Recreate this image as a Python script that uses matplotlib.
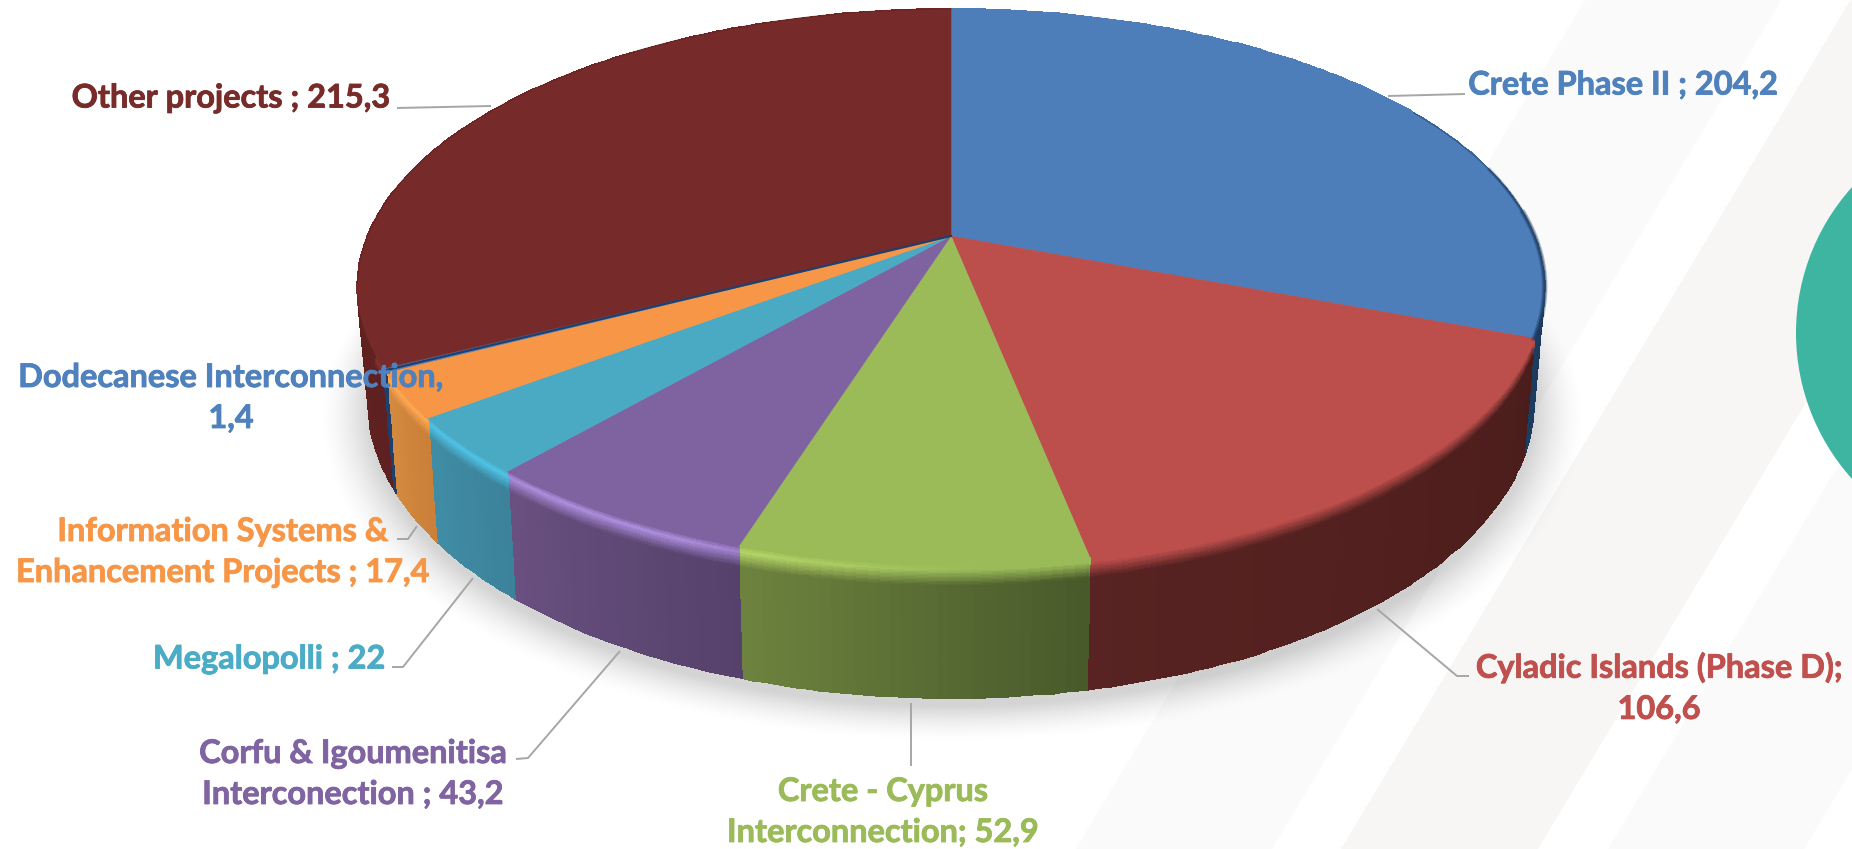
import numpy as np
import matplotlib
matplotlib.use('Agg')
import matplotlib.pyplot as plt
import matplotlib.patheffects as pe
from matplotlib.colors import to_rgb
from matplotlib.patches import Circle, Polygon

# chart data
projects = ['Crete Phase II', 'Cyladic Islands (Phase D)', 'Crete - Cyprus Interconnection',
            'Corfu & Igoumenitisa Interconection', 'Megalopolli',
            'Information Systems & Enhancement Projects', 'Dodecanese Interconnection', 'Other projects']
values = [204.2, 106.6, 52.9, 43.2, 22, 17.4, 1.4, 215.3]
labels = ['Crete Phase II ; 204,2', 'Cyladic Islands (Phase D);\n106,6', 'Crete - Cyprus\nInterconnection; 52,9',
          'Corfu & Igoumenitisa\nInterconection ; 43,2', 'Megalopolli ; 22',
          'Information Systems &\nEnhancement Projects ; 17,4', 'Dodecanese Interconnection,\n1,4',
          'Other projects ; 215,3']
top_colors = ['#4d7eb9', '#bc4e4c', '#9bbb59', '#7f62a0', '#4aa9c3', '#f79646', '#4d7eb9', '#772a2a']
side_left = ['#1d3a5f', '#582322', '#6e833f', '#695080', '#3f8ea6', '#d58a40', '#1f3f6c', '#6e2626']
side_right = ['#1d3a5f', '#4a1d1b', '#47592a', '#55416b', '#3b8199', '#c97f38', '#1f3f6c', '#5e2020']
shine = ['#4d7eb9', '#bc4e4c', '#bcdc6c', '#ab8ddc', '#4fc3e6', '#ffa851', '#1f3f6c', '#843230']
label_pos = [(1623, 85), (1659, 688), (883, 812), (353, 774), (269, 659), (223, 552), (231, 398), (231, 98)]
label_colors = ['#4f81bd', '#c0504d', '#9bbb59', '#8064a2', '#4bacc6', '#f79646', '#4f81bd', '#772c2a']

# leader lines, one list per label
leaders = [
    [(1388, 96), (1465, 94)],
    [(1377, 609), (1457, 676), (1469, 676)],
    [(911, 703), (911, 766)],
    [(620, 651), (528, 758), (516, 759)],
    [(473, 578), (403, 667), (392, 667)],
    [(417, 526), (408, 539), (397, 539)],
    [(491, 106), (397, 108)],
]

# pale diagonal bands behind the chart: left and right edge at the bottom of the picture
band_edges = [(1076, 1272), (1341, 1538), (1608, 1804)]
band_colors = ['#fafafa', '#f7f6f5', '#fafafa']
band_lean = 0.6

# perspective of the disc
cx, cy = 951, 236
k = 0.183
top_a, top_b = 583.6, 268.6
bot_a, bot_cy, bot_b = 573, 348, 286


def top_xy(theta):
    u, v = np.sin(theta), np.cos(theta)
    w = 1 + k * v
    return cx + top_a * u / w, cy - top_b * v / w


def bot_xy(theta):
    u, v = np.sin(theta), np.cos(theta)
    w = 1 + k * v
    return cx + bot_a * u / w, bot_cy - bot_b * v / w


fig = plt.figure(figsize=(18.52, 8.49), dpi=100)
ax = fig.add_axes([0, 0, 1, 1])

for (x0, x1), col in zip(band_edges, band_colors):
    d = 849 * band_lean
    ax.add_patch(Polygon([(x0, 849), (x1, 849), (x1 + d, 0), (x0 + d, 0)], closed=True, fc=col, ec='none', zorder=1))
ax.add_patch(Circle((2014, 333), 218, fc='#3db5a0', ec='none', zorder=2))

# soft shadow under the disc
gx, gy = np.meshgrid(np.arange(0, 1852, 2), np.arange(0, 849, 2))
s = (gy - bot_cy - 8) / bot_b
t = (gx - cx) / bot_a
r = np.sqrt(s ** 2 + t ** 2) / np.clip(1 + k * s, 0.1, None)
fade = np.clip((1.085 - r) / 0.085, 0, 1) ** 1.6
shadow = np.zeros(gx.shape + (4,))
shadow[..., 3] = 0.17 * fade
ax.imshow(shadow, extent=(0, 1852, 849, 0), zorder=3, interpolation='bilinear', aspect='auto')
ax.set_xlim(0, 1852)
ax.set_ylim(849, 0)
ax.axis('off')

edges = np.concatenate([[0], np.cumsum(values)]) / np.sum(values) * 2 * np.pi
hs = np.concatenate([np.linspace(0, 0.2, 21), [0.45, 0.7, 1.0]])

# sides: back slices first
draw_order = [7, 0, 1, 2, 3, 4, 5, 6]
for i in draw_order:
    n = max(4, int((edges[i + 1] - edges[i]) * 60))
    th = np.linspace(edges[i], edges[i + 1], n + 1)
    x0, y0 = top_xy(th)
    x1, y1 = bot_xy(th)
    X = x0[None, :] + (x1 - x0)[None, :] * hs[:, None]
    Y = y0[None, :] + (y1 - y0)[None, :] * hs[:, None]
    tc, sc, sl, sr = map(np.array, map(to_rgb, (top_colors[i], shine[i], side_left[i], side_right[i])))
    C = np.zeros((len(hs) - 1, n, 3))
    for a in range(n):
        # the angle runs clockwise, so on the front it goes right to left
        f = (a + 0.5) / n
        body = sr * (1 - f) + sl * f
        mid = np.degrees((th[a] + th[a + 1]) / 2)
        gain = np.clip((mid - 178) / 25, 0, 1)
        peak = tc * (1 - gain) + sc * gain
        for b in range(len(hs) - 1):
            h = (hs[b] + hs[b + 1]) / 2
            if h < 0.045:
                C[b, a] = tc + (peak - tc) * h / 0.045
            elif h < 0.16:
                q = (h - 0.045) / 0.115
                C[b, a] = peak * (1 - q) + body * q
            else:
                C[b, a] = body
    ax.pcolormesh(X, Y, C, shading='flat', zorder=4 + draw_order.index(i) * 0.01,
                  edgecolors='face', linewidth=0.3)

# top face
for i in range(len(values)):
    th = np.linspace(edges[i], edges[i + 1], 200)
    x0, y0 = top_xy(th)
    pts = np.column_stack([np.r_[cx, x0], np.r_[cy, y0]])
    ax.add_patch(Polygon(pts, closed=True, fc=top_colors[i], ec=top_colors[i], lw=0.4, zorder=5))

# dark fade on the right of the blue rim
for start, lw, alpha in [(np.radians(60), 1.0, 0.5), (np.radians(75), 2.4, 0.45), (np.radians(85), 4.0, 0.35)]:
    th = np.linspace(start, edges[1], 120)
    x0, y0 = top_xy(th)
    ax.plot(x0, y0, color='#1d3a5f', lw=lw, alpha=alpha, zorder=5.5)
th = np.linspace(edges[7] + 0.3, edges[8], 150)
x0, y0 = top_xy(th)
ax.plot(x0, y0, color='#5e2020', lw=1.0, alpha=0.5, zorder=5.5)
th = np.linspace(edges[6], edges[7], 5)
x0, y0 = top_xy(th)
ax.plot([cx, x0[2]], [cy, y0[2]], color='#1f3f6c', lw=1.6, zorder=5.6)

for pts in leaders:
    xs, ys = zip(*pts)
    ax.plot(xs, ys, color='#a6a6a6', lw=1.4, zorder=6, solid_capstyle='butt')

for lab, pos, col in zip(labels, label_pos, label_colors):
    ax.text(pos[0], pos[1], lab, color=col, fontsize=23.4, family='Lato', fontweight='bold',
            ha='center', va='center', linespacing=1.5, zorder=7,
            path_effects=[pe.withStroke(linewidth=0.6, foreground=col)])

fig.savefig('out.png', dpi=100)
